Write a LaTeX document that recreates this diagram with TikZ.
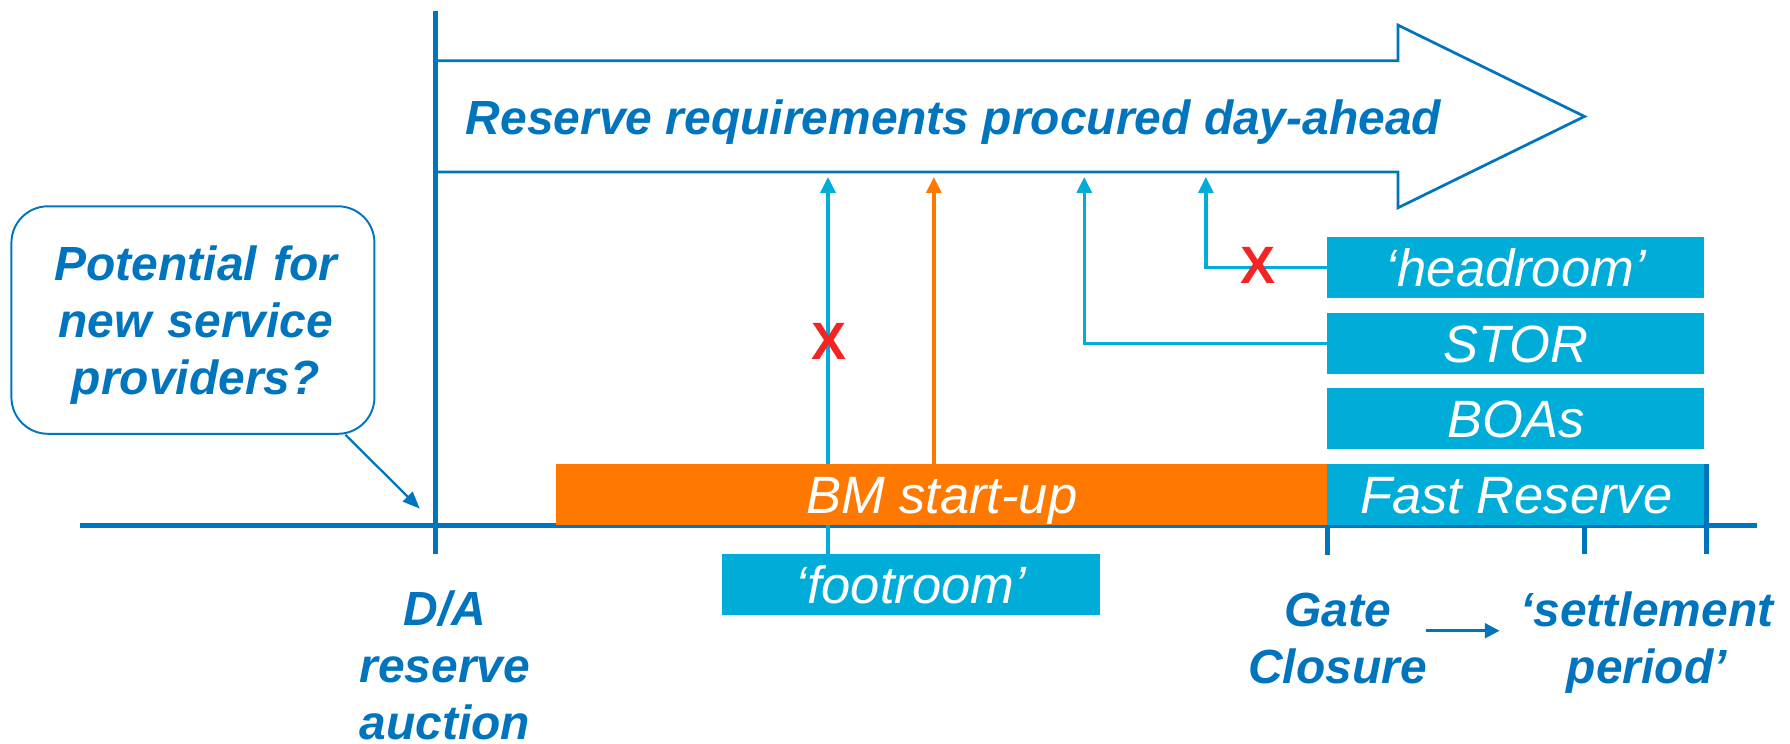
\documentclass[tikz,border=0pt]{standalone}
\usepackage{fontspec}
\setmainfont{Liberation Sans}
\usetikzlibrary{arrows.meta}
\definecolor{dblue}{RGB}{0,117,190}
\definecolor{cyanbox}{RGB}{0,173,216}
\definecolor{orangebox}{RGB}{255,121,0}
\definecolor{redx}{RGB}{242,36,36}
\tikzset{
  bluetext/.style={text=dblue, font=\fontsize{42}{50}\selectfont\bfseries\itshape, inner sep=0pt, anchor=base},
  servicebox/.style={fill=#1, text=white, font=\fontsize{46}{50}\selectfont\itshape, inner sep=0pt, text height=33pt, text depth=0pt, minimum height=53pt},
  conn/.style={line width=3.2pt, draw=#1, -{Triangle[length=14pt,width=13pt]}},
  crossmark/.style={text=redx, font=\fontsize{46}{46}\selectfont\bfseries, inner sep=0pt, text height=33pt, text depth=0pt},
  axisline/.style={draw=dblue, line width=4.6pt},
}
\begin{document}
\begin{tikzpicture}[x=1pt,y=-1pt]
\useasboundingbox (0,0) rectangle (1568,651);
% named points
\coordinate (vtop) at (381.2,9.5);
\coordinate (vbot) at (381.2,485.6);
\coordinate (tlL) at (70,460);
\coordinate (tlR) at (1539,460);
\coordinate (tipfoot) at (725.3,155);
\coordinate (tipbm) at (818,155);
\coordinate (tipstor) at (949.8,155);
\coordinate (tiphead) at (1056.3,155);
\coordinate (datarget) at (367.7,445.5);
\coordinate (gcL) at (1248.8,552.5);
\coordinate (gcR) at (1313.6,552.5);

% big arrow outline
\draw[dblue, line width=2.4pt] (381.2,53.3) -- (1224.6,53.3) -- (1224.6,22) -- (1388,102)
  -- (1224.6,182) -- (1224.6,150.7) -- (381.2,150.7);
\node[bluetext, anchor=base west] (reqtext) at (408,117.7) {Reserve requirements procured day-ahead};

% axes
\draw[axisline] (vtop) -- (vbot);
\draw[axisline] (tlL) -- (tlR);

% boxes on the right
\node[servicebox=cyanbox, minimum width=330.1pt] (headroom) at (1327.85,234.3) {‘headroom’};
\node[servicebox=cyanbox, minimum width=330.1pt] (stor) at (1327.85,300.8) {STOR};
\node[servicebox=cyanbox, minimum width=330.1pt] (boas) at (1327.85,366.5) {BOAs};
\node[servicebox=cyanbox, minimum width=330.7pt, minimum height=53.1pt] (footroom) at (797.8,511.85) {‘footroom’};

% connectors
\draw[conn=cyanbox] (footroom.north -| tipfoot) -- (tipfoot);
\draw[conn=cyanbox, line width=3pt] (stor.west) -| (tipstor);
\draw[conn=cyanbox, line width=3pt] (headroom.west) -| (tiphead);

% bottom bars
\node[servicebox=orangebox, minimum width=675.8pt, minimum height=53.5pt] (bmstart) at (824.9,433.25) {BM start-up};
\node[servicebox=cyanbox, minimum width=330.7pt, minimum height=53.5pt] (fastres) at (1328.15,433.25) {Fast Reserve};
\draw[conn=orangebox] (bmstart.north -| tipbm) -- (tipbm);

% ticks
\draw[axisline, line width=4.4pt] (fastres.south west) -- ++(0,25.6);
\draw[axisline, line width=4.4pt] (1387.9,460) -- ++(0,25.6);
\draw[axisline, line width=4.4pt] (1494.5,406.5) -- (1494.5,485.6);

% red crosses
\node[crossmark] (xfoot) at (725.8,298.3) {X};
\node[crossmark] (xhead) at (1102.3,232) {X};

% callout
\node[draw=dblue, line width=1.7pt, rounded corners=32pt, minimum width=318pt, minimum height=199.3pt, inner sep=0pt] (callout) at (169,280.35) {};
\node[bluetext, text width=300pt, align=center] (calltext) at (171.5,245.5) {Potential for\\new service\\providers?};
\draw[dblue, line width=2pt, -{Triangle[length=15pt,width=12pt]}] ([xshift=-26.3pt]callout.south east) -- (datarget);

% bottom labels
\node[bluetext, text width=220pt, align=center] (datext) at (389.7,548.2) {D/A\\reserve\\auction};
\node[bluetext, text width=220pt, align=center] (gatetext) at (1171.7,549) {Gate\\Closure};
\node[bluetext, text width=260pt, align=center] (settletext) at (1442.5,549) {‘settlement\\period’};
\draw[dblue, line width=2.4pt, -{Triangle[length=13pt,width=13pt]}] (gcL) -- (gcR);
\end{tikzpicture}
\end{document}
